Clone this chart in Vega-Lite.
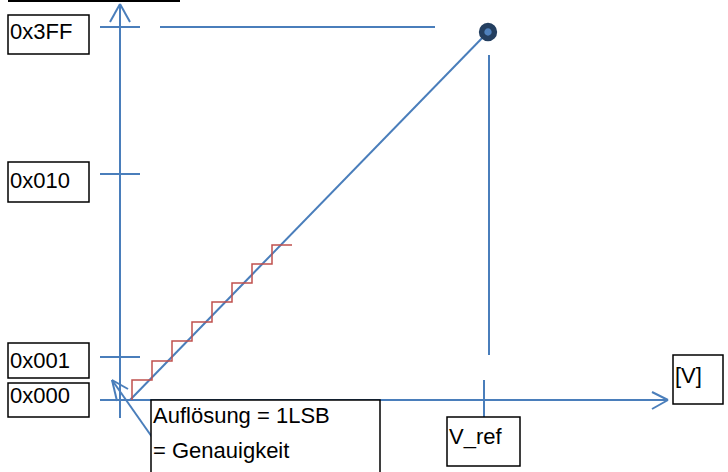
{
  "$schema": "https://vega.github.io/schema/vega-lite/v6.json",
  "width": 728,
  "height": 472,
  "padding": 0,
  "autosize": {"type": "none"},
  "background": "white",
  "config": {"view": {"stroke": null}},
  "datasets": {
    "blue": [
      {"x1": 120, "y1": 4, "x2": 120, "y2": 418},
      {"x1": 120, "y1": 4, "x2": 110, "y2": 22},
      {"x1": 120, "y1": 4, "x2": 130, "y2": 22},
      {"x1": 100, "y1": 27, "x2": 140, "y2": 27},
      {"x1": 160, "y1": 27, "x2": 435, "y2": 27},
      {"x1": 100, "y1": 174, "x2": 140, "y2": 174},
      {"x1": 100, "y1": 357, "x2": 140, "y2": 357},
      {"x1": 100, "y1": 400, "x2": 668, "y2": 400},
      {"x1": 668, "y1": 400, "x2": 652, "y2": 392},
      {"x1": 668, "y1": 400, "x2": 652, "y2": 409},
      {"x1": 484, "y1": 380, "x2": 484, "y2": 417},
      {"x1": 489, "y1": 55, "x2": 489, "y2": 355},
      {"x1": 130, "y1": 400, "x2": 487, "y2": 33},
      {"x1": 152, "y1": 437, "x2": 112, "y2": 380},
      {"x1": 112, "y1": 380, "x2": 117, "y2": 401},
      {"x1": 112, "y1": 380, "x2": 128, "y2": 389}
    ],
    "stairs": [
      {"i": 0, "x": 132, "y": 400}, {"i": 1, "x": 132, "y": 380},
      {"i": 2, "x": 152, "y": 380}, {"i": 3, "x": 152, "y": 361},
      {"i": 4, "x": 172, "y": 361}, {"i": 5, "x": 172, "y": 341},
      {"i": 6, "x": 192, "y": 341}, {"i": 7, "x": 192, "y": 322},
      {"i": 8, "x": 212, "y": 322}, {"i": 9, "x": 212, "y": 302},
      {"i": 10, "x": 232, "y": 302}, {"i": 11, "x": 232, "y": 283},
      {"i": 12, "x": 252, "y": 283}, {"i": 13, "x": 252, "y": 264},
      {"i": 14, "x": 272, "y": 264}, {"i": 15, "x": 272, "y": 245},
      {"i": 16, "x": 292, "y": 245}
    ],
    "boxes": [
      {"x1": 8, "y1": 15, "x2": 89, "y2": 54, "label": "0x3FF", "ty": 39},
      {"x1": 8, "y1": 162, "x2": 89, "y2": 202, "label": "0x010", "ty": 188},
      {"x1": 8, "y1": 343, "x2": 89, "y2": 378, "label": "0x001", "ty": 368},
      {"x1": 8, "y1": 383, "x2": 89, "y2": 417, "label": "0x000", "ty": 403},
      {"x1": 151, "y1": 400, "x2": 380, "y2": 475, "label": "Auflösung = 1LSB", "ty": 423},
      {"x1": 447, "y1": 417, "x2": 520, "y2": 466, "label": "V_ref", "ty": 444},
      {"x1": 673, "y1": 355, "x2": 723, "y2": 404, "label": "[V]", "ty": 383}
    ],
    "extra": [
      {"x": 153, "y": 458, "label": "= Genauigkeit"}
    ],
    "topline": [
      {"x1": 8, "y1": 1, "x2": 180, "y2": 1}
    ],
    "dot": [
      {"x": 488, "y": 32}
    ]
  },
  "layer": [
    {
      "data": {"name": "blue"},
      "mark": {"type": "rule", "color": "#4A7EBB", "strokeWidth": 2},
      "encoding": {
        "x": {"field": "x1", "type": "quantitative", "scale": {"domain": [0, 728], "nice": false, "zero": false}, "axis": null},
        "y": {"field": "y1", "type": "quantitative", "scale": {"domain": [0, 472], "nice": false, "zero": false, "reverse": true}, "axis": null},
        "x2": {"field": "x2"},
        "y2": {"field": "y2"}
      }
    },
    {
      "data": {"name": "topline"},
      "mark": {"type": "rule", "color": "black", "strokeWidth": 2},
      "encoding": {
        "x": {"field": "x1", "type": "quantitative"},
        "y": {"field": "y1", "type": "quantitative"},
        "x2": {"field": "x2"},
        "y2": {"field": "y2"}
      }
    },
    {
      "data": {"name": "stairs"},
      "mark": {"type": "line", "color": "#C0504D", "strokeWidth": 1.5},
      "encoding": {
        "x": {"field": "x", "type": "quantitative"},
        "y": {"field": "y", "type": "quantitative"},
        "order": {"field": "i", "type": "quantitative"}
      }
    },
    {
      "data": {"name": "boxes"},
      "mark": {"type": "rect", "fill": "white", "stroke": "black", "strokeWidth": 1.5},
      "encoding": {
        "x": {"field": "x1", "type": "quantitative"},
        "y": {"field": "y1", "type": "quantitative"},
        "x2": {"field": "x2"},
        "y2": {"field": "y2"}
      }
    },
    {
      "data": {"name": "boxes"},
      "mark": {"type": "text", "align": "left", "baseline": "alphabetic", "font": "Liberation Sans", "fontSize": 22, "color": "black", "dx": 2},
      "encoding": {
        "x": {"field": "x1", "type": "quantitative"},
        "y": {"field": "ty", "type": "quantitative"},
        "text": {"field": "label"}
      }
    },
    {
      "data": {"name": "extra"},
      "mark": {"type": "text", "align": "left", "baseline": "alphabetic", "font": "Liberation Sans", "fontSize": 22, "color": "black"},
      "encoding": {
        "x": {"field": "x", "type": "quantitative"},
        "y": {"field": "y", "type": "quantitative"},
        "text": {"field": "label"}
      }
    },
    {
      "data": {"name": "dot"},
      "mark": {"type": "point", "shape": "circle", "filled": true, "fill": "#4F81BD", "stroke": "#243F60", "strokeWidth": 5.5, "size": 165, "opacity": 1, "fillOpacity": 1, "strokeOpacity": 1},
      "encoding": {
        "x": {"field": "x", "type": "quantitative"},
        "y": {"field": "y", "type": "quantitative"}
      }
    }
  ]
}
